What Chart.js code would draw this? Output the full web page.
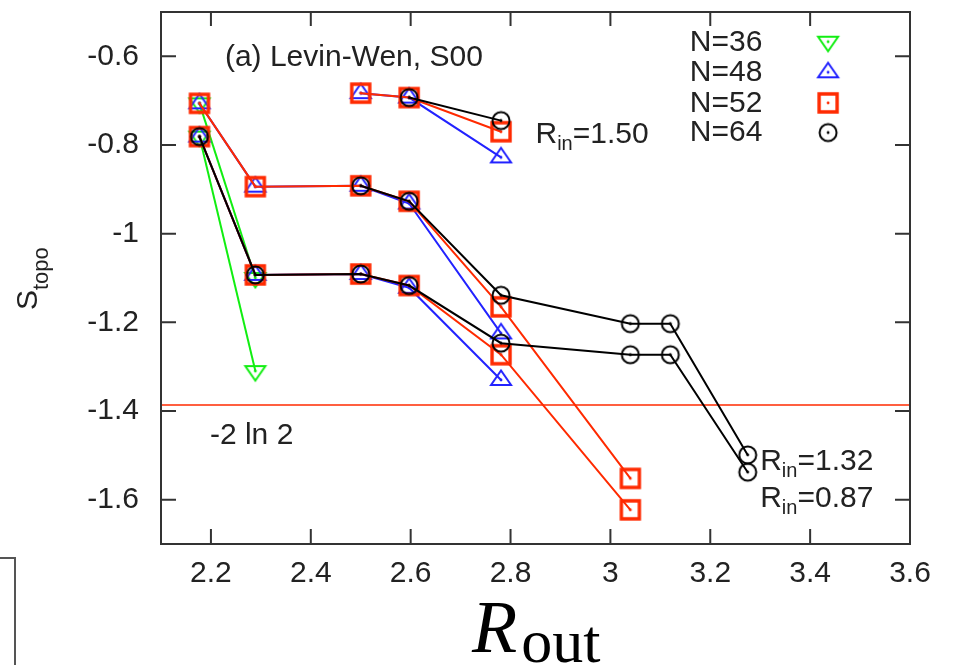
<!DOCTYPE html>
<html>
<head>
<meta charset="utf-8">
<script src="https://cdn.jsdelivr.net/npm/chart.js@4"></script>
<style>
  html, body { margin: 0; padding: 0; background: #fff; }
  #wrap { position: relative; width: 953px; height: 665px; overflow: hidden; }
  #corner { position: absolute; left: 0; top: 557px; width: 14px; height: 130px;
            border-top: 2px solid #555; border-right: 2px solid #555; }
</style>
</head>
<body>
<div id="wrap">
  <canvas id="chart" width="953" height="665"></canvas>
  <div id="corner"></div>
</div>
<script>
// R_out positions shared by all series
const rOut = [2.177, 2.289, 2.5, 2.597, 2.781, 3.04, 3.12, 3.275];

// N=36
const n36a = [-0.706, -1.10];
const n36b = [-0.781, -1.310];
// N=48
const n48_150 = [null, null, -0.683, -0.693, -0.828];
const n48_132 = [-0.706, -0.894, -0.892, -0.932, -1.225];
const n48_087 = [-0.781, -1.093, -1.091, -1.122, -1.330];
// N=52
const n52_150 = [null, null, -0.683, -0.693, -0.770];
const n52_132 = [-0.706, -0.894, -0.892, -0.927, -1.165, -1.552];
const n52_087 = [-0.781, -1.093, -1.091, -1.117, -1.273, -1.623];
// N=64
const n64_150 = [null, null, null, -0.693, -0.745];
const n64_132 = [null, null, -0.892, -0.927, -1.139, -1.203, -1.203, -1.499];
const n64_087 = [-0.781, -1.093, -1.091, -1.117, -1.247, -1.273, -1.273, -1.538];

const twoLn2 = -2 * Math.LN2;

const xTicks = [2.2, 2.4, 2.6, 2.8, 3, 3.2, 3.4, 3.6];
const yTicks = [-1.6, -1.4, -1.2, -1, -0.8, -0.6];
const xMin = 2.1, xMax = 3.6, yMin = -1.7, yMax = -0.5;

const legendNames = ['N=36', 'N=48', 'N=52', 'N=64'];

const colors = { n36: '#11ee11', n48: '#2222ff', n52: '#ff2a00', n64: '#000000' };

// hollow gnuplot-like markers with a centre dot
function makeMarker(kind, color) {
  const c = document.createElement('canvas');
  c.width = 30; c.height = 30;
  const g = c.getContext('2d');
  g.translate(15, 15);
  g.strokeStyle = color;
  g.fillStyle = color;
  g.lineWidth = 2;
  g.beginPath();
  if (kind === 'up') {
    g.moveTo(0, -9.5); g.lineTo(10, 5); g.lineTo(-10, 5); g.closePath();
  } else if (kind === 'down') {
    g.moveTo(0, 9.5); g.lineTo(10, -5); g.lineTo(-10, -5); g.closePath();
  } else if (kind === 'square') {
    g.lineWidth = 3.4;
    g.rect(-9, -9, 18, 18);
  } else {
    g.arc(0, 0, 8.5, 0, Math.PI * 2);
  }
  g.stroke();
  g.beginPath();
  g.arc(0, 0, 1.4, 0, Math.PI * 2);
  g.fill();
  return c;
}

const markers = {
  n36: makeMarker('down', colors.n36),
  n48: makeMarker('up', colors.n48),
  n52: makeMarker('square', colors.n52),
  n64: makeMarker('circle', colors.n64)
};

function series(vals, key) {
  return {
    data: vals.map((v, i) => ({ x: rOut[i], y: v })),
    showLine: true,
    borderColor: colors[key],
    borderWidth: 2,
    pointStyle: markers[key],
    pointRadius: 10,
    spanGaps: false
  };
}

// first dataset is drawn on top
const datasets = [
  series(n64_150, 'n64'), series(n64_132, 'n64'), series(n64_087, 'n64'),
  series(n52_150, 'n52'), series(n52_132, 'n52'), series(n52_087, 'n52'),
  series(n48_150, 'n48'), series(n48_132, 'n48'), series(n48_087, 'n48'),
  series(n36a, 'n36'), series(n36b, 'n36'),
  {
    data: [{ x: xMin, y: twoLn2 }, { x: xMax, y: twoLn2 }],
    showLine: true,
    borderColor: '#ff2a00',
    borderWidth: 1.5,
    pointRadius: 0
  }
];

const textColor = '#222';
const sans = "'Liberation Sans', Arial, sans-serif";
const serif = "'Liberation Serif', 'Times New Roman', serif";

// box and inward ticks on all four sides
const frame = {
  id: 'frame',
  afterDatasetsDraw(chart) {
    const { ctx, chartArea: a, scales: { x, y } } = chart;
    ctx.save();
    ctx.strokeStyle = '#333';
    ctx.lineWidth = 2;
    ctx.beginPath();
    xTicks.forEach(v => {
      const px = x.getPixelForValue(v);
      ctx.moveTo(px, a.bottom); ctx.lineTo(px, a.bottom - 15);
      ctx.moveTo(px, a.top); ctx.lineTo(px, a.top + 14);
    });
    yTicks.forEach(v => {
      const py = y.getPixelForValue(v);
      ctx.moveTo(a.left, py); ctx.lineTo(a.left + 15, py);
      ctx.moveTo(a.right, py); ctx.lineTo(a.right - 15, py);
    });
    ctx.stroke();
    ctx.strokeRect(a.left, a.top, a.right - a.left, a.bottom - a.top);
    ctx.restore();
  }
};

function subText(ctx, x, y, base, sub, rest, size, subSize, drop) {
  ctx.font = size + 'px ' + sans;
  ctx.fillText(base, x, y);
  x += ctx.measureText(base).width;
  ctx.font = subSize + 'px ' + sans;
  ctx.fillText(sub, x, y + drop);
  x += ctx.measureText(sub).width;
  if (rest) {
    ctx.font = size + 'px ' + sans;
    ctx.fillText(rest, x, y);
  }
}

const labels = {
  id: 'labels',
  afterDraw(chart) {
    const { ctx, scales: { x, y } } = chart;
    const X = v => x.getPixelForValue(v);
    const Y = v => y.getPixelForValue(v);
    ctx.save();
    ctx.fillStyle = textColor;
    ctx.textBaseline = 'alphabetic';
    ctx.textAlign = 'left';

    ctx.font = '30px ' + sans;
    ctx.fillText('(a) Levin-Wen, S00', X(2.228), Y(-0.622));
    ctx.fillText('-2 ln 2', X(2.198), Y(-1.475));

    subText(ctx, X(2.850), Y(-0.796), 'R', 'in', '=1.50', 30, 20, 7);
    subText(ctx, X(3.300), Y(-1.533), 'R', 'in', '=1.32', 30, 20, 7);
    subText(ctx, X(3.300), Y(-1.616), 'R', 'in', '=0.87', 30, 20, 7);

    // legend
    const keys = ['n36', 'n48', 'n52', 'n64'];
    const rowBase = [-0.589, -0.656, -0.725, -0.792];
    const rowMark = [-0.567, -0.636, -0.705, -0.772];
    ctx.font = '30px ' + sans;
    legendNames.forEach((name, i) => {
      ctx.fillText(name, X(3.159), Y(rowBase[i]));
      const m = markers[keys[i]];
      ctx.drawImage(m, X(3.436) - m.width / 2, Y(rowMark[i]) - m.height / 2);
    });

    // y title S_topo
    ctx.save();
    ctx.translate(37, 310);
    ctx.rotate(-Math.PI / 2);
    subText(ctx, 0, 0, 'S', 'topo', '', 30, 22, 11);
    ctx.restore();

    // x title R_out
    ctx.fillStyle = '#000';
    ctx.font = 'italic 74px ' + serif;
    ctx.fillText('R', 472, 652);
    const wR = ctx.measureText('R').width;
    ctx.font = '62px ' + serif;
    ctx.fillText('out', 472 + wR + 4, 662);
    ctx.restore();
  }
};

Chart.defaults.font.family = sans;

new Chart(document.getElementById('chart'), {
  type: 'scatter',
  data: { datasets: datasets },
  options: {
    responsive: false,
    animation: false,
    layout: { padding: { left: 0, right: 43, top: 8, bottom: 0 } },
    plugins: { legend: { display: false }, tooltip: { enabled: false } },
    scales: {
      x: {
        type: 'linear',
        min: xMin, max: xMax,
        grid: { display: false, drawTicks: false },
        border: { display: false },
        afterBuildTicks: s => { s.ticks = xTicks.map(v => ({ value: v })); },
        afterFit: s => { s.height = 121; s.paddingLeft = 0; s.paddingRight = 0; },
        ticks: {
          font: { size: 30 }, color: textColor, padding: 12,
          maxRotation: 0, autoSkip: false,
          callback: v => String(v)
        }
      },
      y: {
        type: 'linear',
        min: yMin, max: yMax,
        grid: { display: false, drawTicks: false },
        border: { display: false },
        afterBuildTicks: s => { s.ticks = yTicks.map(v => ({ value: v })); },
        afterFit: s => { s.width = 161; s.paddingTop = 0; s.paddingBottom = 0; },
        ticks: {
          font: { size: 30 }, color: textColor, padding: 22,
          autoSkip: false,
          callback: v => String(v)
        }
      }
    }
  },
  plugins: [frame, labels]
});
</script>
</body>
</html>
